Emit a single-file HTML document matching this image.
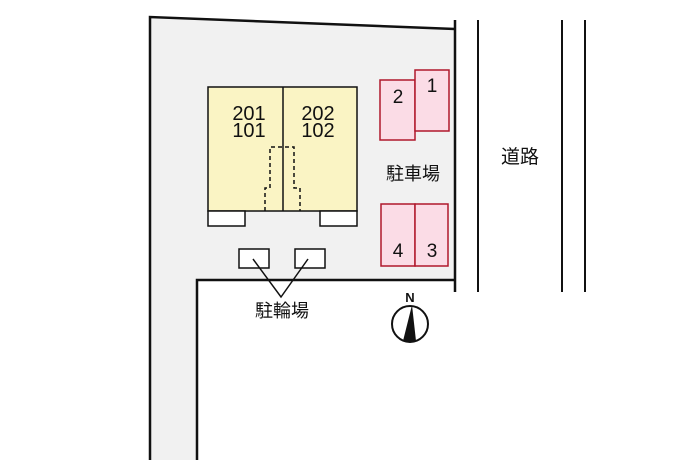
<!DOCTYPE html>
<html><head><meta charset="utf-8"><style>
html,body{margin:0;padding:0;background:#fff;}
svg{display:block;}
text{font-family:"Liberation Sans","Noto Sans CJK JP",sans-serif;fill:#111;}
</style></head><body>
<svg width="700" height="466" viewBox="0 0 700 466" xmlns="http://www.w3.org/2000/svg">
<rect width="700" height="466" fill="#fff"/>
<polygon points="150,17 455,29 455,280 197,280 197,460 150,460" fill="#f1f1f1"/>
<polyline points="150,460 150,17 455,29" fill="none" stroke="#111" stroke-width="2.5"/>
<polyline points="197,460 197,280 455,280" fill="none" stroke="#111" stroke-width="2.5"/>
<line x1="455" y1="20" x2="455" y2="292" stroke="#111" stroke-width="2.5"/>
<line x1="478" y1="20" x2="478" y2="292" stroke="#111" stroke-width="2"/>
<line x1="562" y1="20" x2="562" y2="292" stroke="#111" stroke-width="2"/>
<line x1="585" y1="20" x2="585" y2="292" stroke="#111" stroke-width="2"/>
<text x="520" y="163" font-size="19" text-anchor="middle">道路</text>
<rect x="208" y="87" width="149" height="124" fill="#faf4c4" stroke="#111" stroke-width="1.5"/>
<line x1="283" y1="87" x2="283" y2="211" stroke="#111" stroke-width="1.5"/>
<rect x="208" y="211" width="37" height="15" fill="#fff" stroke="#111" stroke-width="1.5"/>
<rect x="320" y="211" width="37" height="15" fill="#fff" stroke="#111" stroke-width="1.5"/>
<polyline points="265,211 265,188 270,188 270,147 294,147 294,188 300,188 300,211" fill="none" stroke="#111" stroke-width="1.5" stroke-dasharray="4,3"/>
<text x="249" y="120" font-size="20" text-anchor="middle">201</text>
<text x="249" y="137" font-size="20" text-anchor="middle">101</text>
<text x="318" y="120" font-size="20" text-anchor="middle">202</text>
<text x="318" y="137" font-size="20" text-anchor="middle">102</text>
<rect x="380" y="80" width="35" height="60" fill="#fbdce6" stroke="#b0182c" stroke-width="1.5"/>
<rect x="415" y="70" width="34" height="61" fill="#fbdce6" stroke="#b0182c" stroke-width="1.5"/>
<rect x="381" y="204" width="34" height="62" fill="#fbdce6" stroke="#b0182c" stroke-width="1.5"/>
<rect x="415" y="204" width="33" height="62" fill="#fbdce6" stroke="#b0182c" stroke-width="1.5"/>
<text x="398" y="103" font-size="19" text-anchor="middle">2</text>
<text x="432" y="92" font-size="19" text-anchor="middle">1</text>
<text x="398" y="257" font-size="19" text-anchor="middle">4</text>
<text x="432" y="257" font-size="19" text-anchor="middle">3</text>
<text x="413" y="180" font-size="18" text-anchor="middle">駐車場</text>
<rect x="239" y="249" width="30" height="19" fill="#fff" stroke="#111" stroke-width="1.5"/>
<rect x="295" y="249" width="30" height="19" fill="#fff" stroke="#111" stroke-width="1.5"/>
<polyline points="253,259 281,297 308,259" fill="none" stroke="#111" stroke-width="1.5"/>
<text x="282" y="317" font-size="18" text-anchor="middle">駐輪場</text>
<circle cx="410" cy="324" r="18" fill="#fff" stroke="#111" stroke-width="2"/>
<polygon points="412,305 403,341 416,341" fill="#111"/>
<text x="410" y="302" font-size="13" font-weight="bold" text-anchor="middle">N</text>
</svg>
</body></html>
